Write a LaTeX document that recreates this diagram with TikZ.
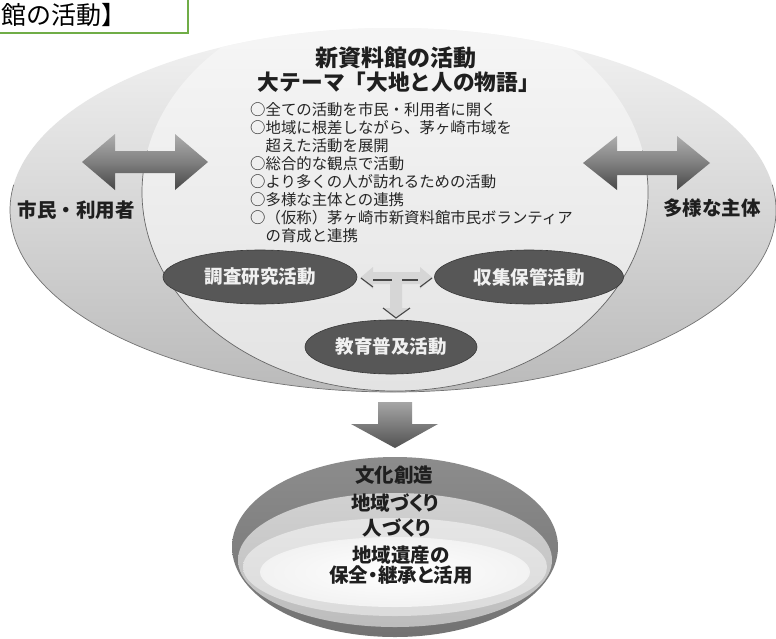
\documentclass[tikz,border=0pt]{standalone}
\usepackage{fontspec}
\setmainfont{Noto Sans CJK JP}
\newfontfamily\jpp[RawFeature=+palt]{Noto Sans CJK JP}
\usetikzlibrary{shapes.geometric}
\definecolor{boxgreen}{HTML}{70AD47}
\tikzset{
  darkell/.style={ellipse, draw=black!78, line width=0.6pt, fill=black!66, text=black!6, inner sep=0pt, font=\fontsize{18.5}{18.5}\selectfont\bfseries},
  sidelabel/.style={inner sep=0pt, text=black!88, font=\fontsize{19.5}{19.5}\selectfont\bfseries},
  ringtext/.style={inner sep=0pt, text=black!88, font=\jpp\fontsize{19.5}{19.5}\selectfont\bfseries},
  bigarrowshade/.style={top color=black!32, bottom color=black!72, middle color=black!50},
  tstroke/.style={draw=black!72, line width=1.1pt},
}
\begin{document}
\begin{tikzpicture}[x=1pt,y=-1pt]
\useasboundingbox (0,0) rectangle (776,638);
\fill[white] (0,0) rectangle (776,638);
% ---- outer ellipse
\shade[top color=black!5, bottom color=black!27] (393,210) ellipse [x radius=383, y radius=182];
\draw[black!55, line width=0.7pt] (393,210) ++(-8:383 and 182) arc[start angle=-8, end angle=188, x radius=383, y radius=182];
% ---- inner light region
\begin{scope}
  \clip (393,210) ellipse [x radius=383, y radius=182];
  \shade[top color=black!3, bottom color=black!11] (395,192) ellipse [x radius=253, y radius=199];
  \draw[black!60, line width=0.7pt] (395,192) ++(-12:253 and 199) arc[start angle=-12, end angle=192, x radius=253, y radius=199];
\end{scope}
% ---- side double arrows
\shade[bigarrowshade] (82,162) -- (115,134) -- (115,151) -- (175,151) -- (175,134) -- (208,162) -- (175,190) -- (175,173) -- (115,173) -- (115,190) -- cycle;
\shade[bigarrowshade] (583,163) -- (617,136) -- (617,151) -- (677,151) -- (677,136) -- (710,163) -- (677,190) -- (677,175) -- (617,175) -- (617,190) -- cycle;
\node[sidelabel] (shimin) at (76,210) {市民・利用者};
\node[sidelabel] (tayo) at (712,208) {多様な主体};
% ---- title and bullets
\node[inner sep=0pt, text=black!88, font=\fontsize{23}{23}\selectfont\bfseries] (title1) at (396,58) {新資料館の活動};
\node[inner sep=0pt, text=black!88, font=\fontsize{21.7}{21.7}\selectfont\bfseries] (title2) at (399,82) {大テーマ「大地と人の物語」};
\node[anchor=north west, inner sep=0pt, align=left, text=black!85, font=\fontsize{15.4}{18.1}\selectfont] (bullets) at (250,102) {%
○全ての活動を市民・利用者に開く\\
○地域に根差しながら、茅ヶ崎市域を\\
　超えた活動を展開\\
○総合的な観点で活動\\
○より多くの人が訪れるための活動\\
○多様な主体との連携\\
○（仮称）茅ヶ崎市新資料館市民ボランティア\\
　の育成と連携};
% ---- T arrow between activities
\fill[black!16] (360,278) -- (373,267) -- (373,272) -- (420,272) -- (420,267) -- (433,278) -- (420,289) -- (420,284) -- (402,284) -- (402,308) -- (410,308) -- (396,318) -- (383,308) -- (390,308) -- (390,284) -- (373,284) -- (373,289) -- cycle;
% ---- activity ellipses
\node[darkell, minimum width=194pt, minimum height=54pt] (chosa) at (260,277) {調査研究活動};
\node[darkell, minimum width=189pt, minimum height=54pt] (shushu) at (529,277) {収集保管活動};
\node[darkell, minimum width=172pt, minimum height=54pt] (kyoiku) at (391,347) {教育普及活動};
\coordinate (tl) at (361,278);
\coordinate (tr) at (432,278);
\draw[tstroke] (tl) -- (373,287);
\draw[tstroke] (373,280) -- (392,280);
\draw[tstroke] (402,280) -- (418,280);
\draw[tstroke] (420,287) -- (tr);
\draw[tstroke] (383,308) -- (396,318) -- (410,308);
% ---- big down arrow
\shade[top color=black!35, bottom color=black!68] (378,402) -- (412,402) -- (412,424) -- (438,424) -- (395,448) -- (351,424) -- (378,424) -- cycle;
% ---- bottom rings
\shade[top color=black!45, bottom color=black!55] (395,547) ellipse [x radius=163, y radius=90];
\shade[top color=black!18, bottom color=black!26] (395,560) ellipse [x radius=157, y radius=67];
\shade[top color=black!10, bottom color=black!14] (395,567) ellipse [x radius=152, y radius=49];
\shade[inner color=white, outer color=black!5] (395,572) ellipse [x radius=135, y radius=35];
\node[ringtext] (bunka) at (394,475) {文化創造};
\node[ringtext] (chiiki) at (395,503) {地域づくり};
\node[ringtext] (hito) at (397,528) {人づくり};
\node[ringtext, align=center] (isan) at (401,565) {地域遺産の\\[1pt]保全・継承と活用};
% ---- caption box (cropped at the page edge)
\draw[boxgreen, line width=1.6pt, fill=white] (-5,-5) rectangle (188,33);
\node[anchor=west, inner sep=0pt, text=black, font=\fontsize{25}{25}\selectfont] (cap) at (1,15) {館の活動】};
\end{tikzpicture}
\end{document}
